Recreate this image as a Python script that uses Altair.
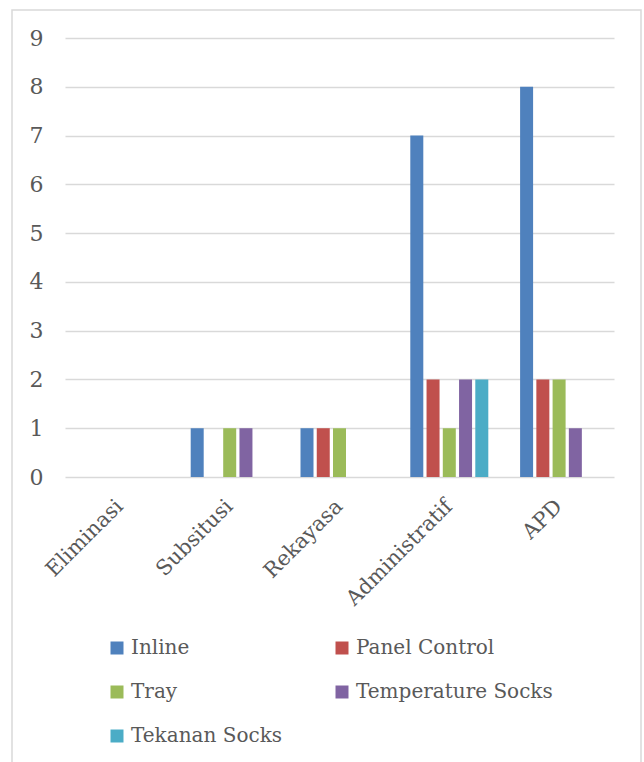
import altair as alt
import pandas as pd

categories = ["Eliminasi", "Subsitusi", "Rekayasa", "Administratif", "APD"]
series = ["Inline", "Panel Control", "Tray", "Temperature Socks", "Tekanan Socks"]
inline = [0, 1, 1, 7, 8]
panel_control = [0, 0, 1, 2, 2]
tray = [0, 1, 1, 1, 2]
temperature_socks = [0, 1, 0, 2, 1]
tekanan_socks = [0, 0, 0, 2, 0]
colors = ["#4F81BD", "#C0504D", "#9BBB59", "#8064A2", "#4BACC6"]

values = [inline, panel_control, tray, temperature_socks, tekanan_socks]
rows = []
for s, vals in zip(series, values):
    for c, v in zip(categories, vals):
        rows.append({"Kategori": c, "Seri": s, "Nilai": v})
df = pd.DataFrame(rows)

FONT = "DejaVu Serif"
W, H = 549, 439

bars = alt.Chart(df).mark_bar().encode(
    x=alt.X("Kategori:N", sort=categories, title=None,
            scale=alt.Scale(paddingInner=0.26, paddingOuter=0.13),
            axis=alt.Axis(labelAngle=-45, labelFontSize=21, labelColor="#595959",
                          labelFont=FONT, domain=False, ticks=False, labelPadding=26,
                          labelAlign="right", labelBaseline="middle", labelLimit=300)),
    xOffset=alt.XOffset("Seri:N", sort=series,
                        scale=alt.Scale(paddingInner=0.2, paddingOuter=0.1)),
    y=alt.Y("Nilai:Q", title=None,
            scale=alt.Scale(domain=[0, 9], nice=False),
            axis=alt.Axis(values=list(range(10)), labelFontSize=22, labelColor="#595959",
                          labelFont=FONT, domain=False, ticks=False, labelPadding=22,
                          gridColor="#D9D9D9", gridWidth=1.5)),
    color=alt.Color("Seri:N", sort=series,
                    scale=alt.Scale(domain=series, range=colors),
                    legend=alt.Legend(title=None, orient="none", legendX=42, legendY=600,
                                      columns=2, direction="horizontal",
                                      symbolType="square", symbolSize=169,
                                      symbolStrokeWidth=0, labelFontSize=20,
                                      labelFont=FONT, labelColor="#595959", labelLimit=400,
                                      columnPadding=49, rowPadding=24, labelOffset=4,
                                      symbolOffset=0)),
)

frame = alt.Chart(pd.DataFrame({"a": [0]})).mark_rect(
    fill=None, stroke="#D9D9D9", strokeWidth=1.5
).encode(
    x=alt.value(-53), x2=alt.value(576), y=alt.value(-28), y2=alt.value(760)
)

chart = alt.layer(frame, bars).properties(
    width=W, height=H,
    background="white",
    autosize=alt.AutoSizeParams(type="none"),
    padding={"left": 65, "top": 38, "right": 30, "bottom": 285},
).configure_view(stroke=None)

chart.save("out.html", embed_options={"renderer": "svg", "actions": False})
